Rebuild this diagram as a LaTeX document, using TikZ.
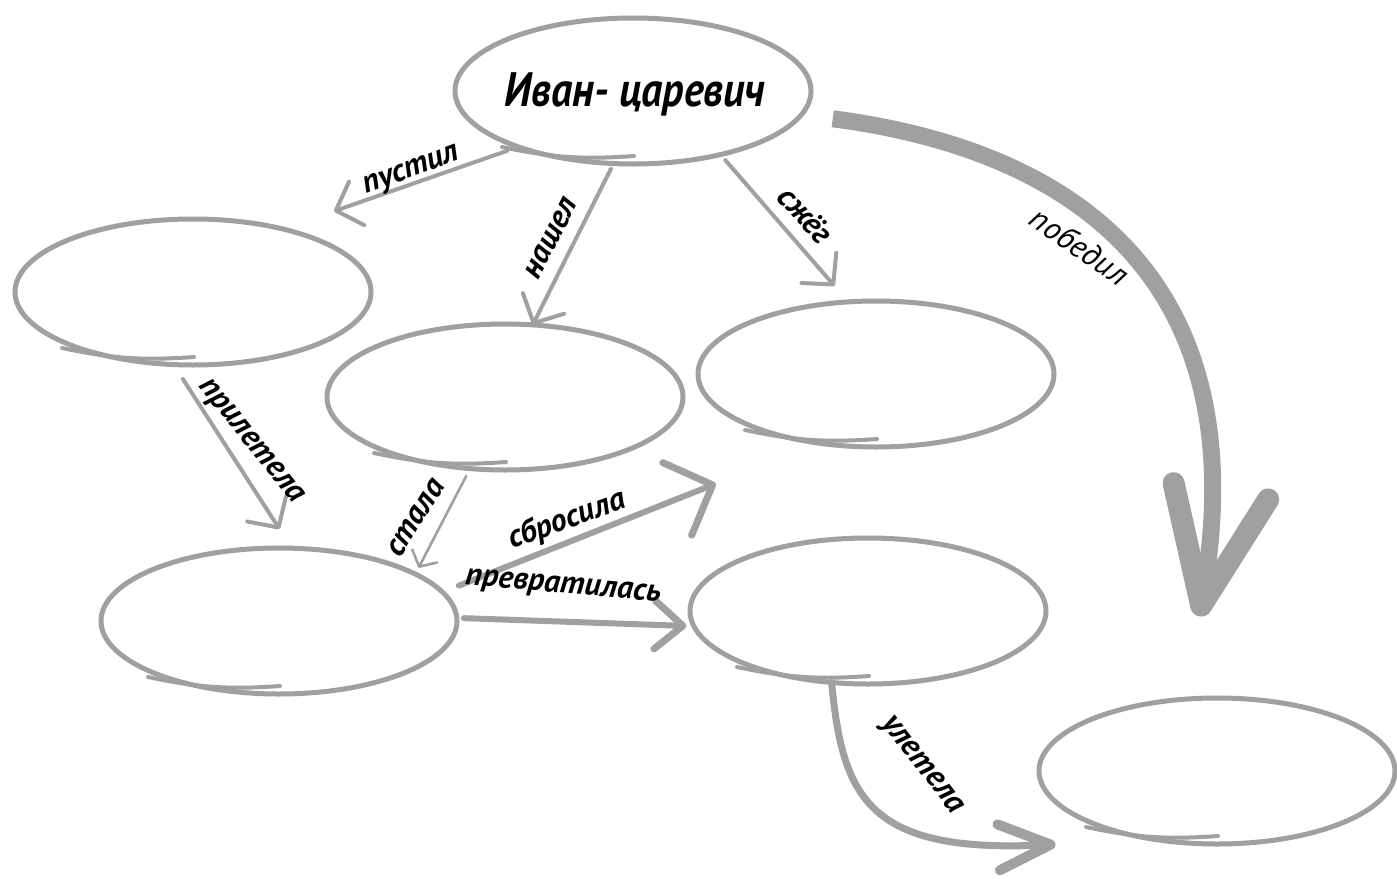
\documentclass[tikz,border=0pt]{standalone}
\usepackage{fontspec}
\newfontfamily\hand{PT Sans}
\usetikzlibrary{shapes.geometric, arrows.meta, calc}
\definecolor{sketch}{RGB}{160,160,160}

\tikzset{
  bubble/.style={ellipse, draw=sketch, line width=2.5pt, minimum width=178pt,
    minimum height=73pt, inner sep=0pt, outer sep=0pt},
  underline/.style={draw=sketch, line width=2pt, line cap=round},
  verb/.style={font=\hand\bfseries\itshape\fontsize{16}{18}\selectfont, inner sep=0pt},
  hero/.style={font=\hand\bfseries\itshape\fontsize{21}{26}\selectfont, inner sep=0pt},
  link/.style={draw=sketch, line width=2pt, line cap=round,
    -{Straight Barb[length=11pt, width=23pt, round]}},
  thin link/.style={link, line width=1.3pt, -{Straight Barb[length=6pt, width=14pt, round]}},
  bold link/.style={link, line width=3pt,
    -{Straight Barb[length=19pt, width=39pt, line width=3.5pt, round]}},
  fly link/.style={link, line width=3.5pt,
    -{Straight Barb[length=26pt, width=23pt, line width=5pt, round]}},
  win/.style={draw=sketch, line width=8.5pt,
    -{Straight Barb[length=58pt, width=48pt, line width=11pt, round]}}
}

\begin{document}
\begin{tikzpicture}[x=0.5pt, y=-0.5pt]

    \useasboundingbox (0,0) rectangle (1397,878);

    % the bubbles
    \node[bubble] (ivan) at (633,91) {};
    \node[bubble] (e1) at (193,292) {};
    \node[bubble] (e2) at (505,397) {};
    \node[bubble] (e3) at (876,374) {};
    \node[bubble] (e4) at (279,621) {};
    \node[bubble] (e5) at (868,611) {};
    \node[bubble] (e6) at (1217,771) {};

    \foreach \b in {ivan,e1,e2,e3,e4,e5,e6}
        \draw[underline] ($(\b)+(-131,56)$) to[bend right=8] ($(\b)+(1,65)$);

    \node[hero, yscale=1.15] (ivanName) at (635,94) {Иван- царевич};

    % connectors
    \draw[link, shorten <=6pt, shorten >=27pt] (ivan.206) -- (e1.35);
    \draw[link, shorten <=3pt] (ivan.255) -- (e2.69);
    \draw[link, shorten <=3.7pt, shorten >=10.5pt] (ivan.324) -- (e3.111);
    \draw[link, shorten <=8.6pt, shorten >=11.3pt] (e1.255) -- (e4.80);
    \draw[thin link, shorten <=4.2pt, shorten >=3.5pt] (e2.244) -- (e4.19);
    \draw[bold link, shorten <=8.8pt, shorten >=55pt] (e4.10) -- (e3.230);
    \draw[bold link, -{Straight Barb[length=14pt, width=24pt, line width=3.5pt, round]},
        shorten <=3.5pt, shorten >=3.8pt] (e4.1) -- (e5.185);
    \draw[fly link, shorten >=49pt] (e5.243) .. controls +(11,115) and +(-286,15) .. (e6.227);
    \draw[win, shorten <=15.8pt, shorten >=42pt]
        (ivan.352) .. controls +(261,34) and +(74,-429) .. (e6.114);

    % the verbs
    \node[verb, rotate=20] (pustil) at (412,172) {пустил};
    \node[verb, rotate=63] (nashel) at (551,238) {нашел};
    \node[verb, rotate=-48] (szheg) at (806,215) {сжёг};
    \node[verb, rotate=-35, font=\hand\itshape\fontsize{16}{18}\selectfont] (pobedil) at (1080,246) {победил};
    \node[verb, rotate=-51] (priletela) at (250,442) {прилетела};
    \node[verb, rotate=58] (stala) at (416,518) {стала};
    \node[verb, rotate=20] (sbrosila) at (567,520) {сбросила};
    \node[verb, rotate=-5] (prevratilas) at (563,588) {превратилась};
    \node[verb, rotate=-52] (uletela) at (921,766) {улетела};

\end{tikzpicture}
\end{document}
